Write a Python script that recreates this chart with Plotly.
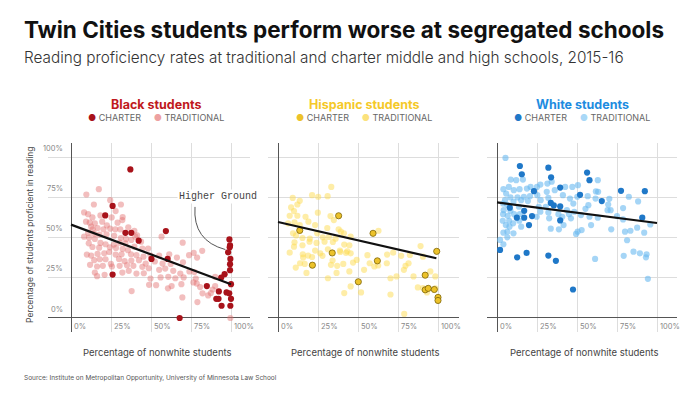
import plotly.graph_objects as go

# ---------------- data (percent) ----------------
black_trad_x = [9.6,17.4,24.5,14.3,31.2,8.2,10.7,13.4,18.4,25.4,27.9,32.3,9.4,11.7,14.9,19.5,22.4,29.1,32.1,12.6,13.6,16.6,20.3,24.5,27.7,30.8,35.8,39.6,40.2,10.7,14.5,17.8,22.2,27.0,31.2,34.4,37.7,8.2,11.3,14.9,18.4,21.6,26.8,30.4,34.0,41.3,43.8,11.1,13.4,17.6,24.3,28.1,32.3,35.6,39.6,44.6,48.2,56.6,69.8,9.9,12.6,16.6,20.8,23.9,27.9,31.6,37.5,40.9,45.3,49.7,55.1,61.4,66.2,73.8,76.7,82.0,78.8,14.5,18.0,21.6,24.9,30.0,33.5,37.7,42.5,46.7,52.4,57.2,62.3,70.0,11.9,16.3,19.9,25.6,30.4,35.0,39.0,44.6,48.6,55.1,58.9,63.9,68.3,74.0,77.1,14.9,16.3,21.0,32.1,36.1,40.9,45.5,49.7,56.0,60.8,65.2,70.4,78.0,90.1,48.8,53.2,60.6,62.9,69.0,76.5,78.6,80.7,82.2,85.7,90.1,37.9,69.6,79.0,87.4,88.5,99.6]
black_trad_y = [76.7,80.0,73.2,70.5,70.5,65.6,64.5,62.5,63.7,62.5,66.4,62.7,59.8,59.2,58.8,59.8,57.5,59.2,60.8,56.7,55.1,55.9,55.1,55.5,55.1,55.1,56.3,54.2,50.5,53.0,52.4,51.8,52.0,51.1,49.7,49.1,48.5,50.5,49.9,49.1,46.6,45.8,45.6,46.8,46.4,51.3,47.4,46.4,44.1,43.7,43.9,43.5,42.9,42.1,44.3,43.1,43.1,50.5,46.8,39.4,38.8,39.8,40.2,41.0,39.4,39.6,39.6,39.0,38.1,38.8,38.8,39.6,37.5,39.0,40.4,41.7,37.5,35.9,36.5,36.5,33.6,36.7,35.3,35.7,35.9,33.8,35.1,33.8,33.6,34.6,33.0,32.0,32.4,32.0,32.4,32.8,32.4,31.8,30.9,29.9,30.7,29.3,27.6,28.9,28.5,28.2,26.0,26.8,28.2,29.3,27.6,27.8,24.5,25.2,25.6,24.7,25.2,24.5,25.6,20.6,20.4,18.4,19.8,21.0,22.1,21.4,19.2,15.3,14.0,19.8,16.7,12.8,9.9,15.5,17.7,0.0]
black_chart_x = [37.1,26.0,21.4,34.0,37.7,42.3,59.3,50.3,60.4,26.0,67.9,84.9,99.0,99.4,99.2,98.2,99.6,99.4,99.4,96.0,93.9,100.0,97.2,98.9,92.4,90.8,92.2,100.0,94.1,99.6]
black_chart_y = [92.3,69.6,63.7,52.9,52.9,48.0,54.0,36.7,36.7,27.0,0.0,19.8,48.8,45.1,43.9,40.8,36.7,33.4,29.7,27.2,25.1,21.0,15.9,15.3,16.5,11.9,11.9,11.9,7.6,7.6]

hisp_trad_x = [9.2,13.6,12.1,8.2,10.0,7.3,12.1,17.2,21.3,25.1,31.0,33.3,24.9,32.8,34.9,6.3,10.3,13.6,19.0,23.2,30.8,37.9,39.3,9.4,11.3,15.3,19.9,24.5,28.0,31.8,36.0,41.2,45.4,10.3,15.3,19.7,24.1,29.1,34.3,41.4,44.6,7.3,10.0,15.5,18.8,23.2,26.4,31.2,38.7,43.3,45.4,15.7,21.3,27.8,34.1,38.9,42.5,13.8,16.7,33.1,37.0,40.8,46.9,49.2,55.9,57.3,62.6,68.2,68.0,72.0,11.1,17.8,31.2,36.6,44.6,53.8,60.2,70.3,74.1,78.7,79.7,82.4,84.7,77.0,81.6,89.1,90.6,95.2,98.3,45.4,51.9,41.4,70.3,87.4,90.6,93.1,98.3,78.9,62.8]
hisp_trad_y = [74.6,72.8,70.5,68.7,66.4,63.5,63.5,62.9,76.3,75.3,75.7,81.4,65.4,63.3,60.8,58.8,59.4,57.7,59.8,57.7,55.9,55.1,53.6,52.6,51.3,49.7,49.3,52.6,50.1,50.3,49.3,52.6,50.5,47.0,45.2,47.4,46.6,47.4,47.2,45.6,45.2,40.6,44.3,39.6,38.8,41.9,40.2,42.7,41.9,41.4,40.2,37.5,37.9,38.6,35.7,41.0,40.4,34.0,33.6,33.0,32.4,33.6,34.4,36.1,39.0,34.0,32.6,39.4,34.0,40.6,31.3,28.0,24.7,28.0,28.9,29.9,32.0,24.7,25.8,29.9,32.4,39.2,25.8,38.6,34.0,44.7,38.1,28.9,25.8,19.6,15.9,15.5,14.6,19.0,18.6,15.9,18.4,2.5,54.2]
hisp_chart_x = [13.6,21.5,33.9,37.9,50.2,59.4,62.1,92.0,92.0,93.9,97.7,99.2,100.0,100.0]
hisp_chart_y = [54.4,32.8,40.4,63.5,22.5,52.6,35.5,26.6,17.5,18.4,17.7,41.4,12.8,10.9]

white_trad_x = [5.3,4.0,8.6,12.0,16.2,7.4,10.5,5.7,14.1,18.7,21.0,25.0,27.1,31.5,34.2,42.6,47.1,50.6,63.0,36.1,31.1,25.2,20.6,16.8,12.8,8.4,5.0,3.8,6.3,10.3,15.1,19.3,27.3,32.1,41.2,45.6,50.2,56.7,61.8,63.2,61.6,70.2,69.5,82.4,88.2,57.1,55.3,47.7,43.7,45.0,48.3,4.2,8.4,13.7,26.1,30.5,27.1,32.1,38.4,3.8,6.7,10.7,14.3,24.8,32.6,40.8,46.2,52.5,69.1,71.0,78.8,75.0,3.6,7.6,10.1,13.9,7.8,5.5,15.1,33.6,38.7,41.6,50.4,52.9,49.4,57.8,58.8,63.0,71.4,78.8,80.0,87.6,92.0,95.8,4.0,6.5,10.3,1.9,6.5,4.0,81.3,61.3,79.2,85.3,89.3,93.5,93.1,94.3,83.4]
white_trad_y = [99.4,80.0,86.0,85.6,86.0,81.4,79.4,77.3,80.0,80.4,81.4,81.4,82.9,83.5,84.7,81.4,81.4,82.5,85.6,79.4,78.4,76.3,75.7,75.3,74.9,74.9,73.2,71.1,70.3,72.2,73.2,72.6,73.2,74.6,76.3,74.2,75.3,75.7,78.6,78.4,74.2,74.0,70.5,75.3,72.4,70.1,67.8,71.1,67.0,64.5,66.0,67.0,66.6,69.1,69.1,69.1,66.0,65.6,64.5,64.5,63.5,64.5,64.5,62.9,61.9,62.9,61.9,63.9,67.0,67.0,68.3,63.3,60.4,60.4,58.8,60.4,56.7,57.7,56.7,55.5,55.1,57.7,53.6,54.6,52.2,62.9,57.7,62.3,55.1,61.2,53.6,56.1,53.0,58.1,53.0,53.6,52.6,48.5,50.1,45.8,48.3,36.7,38.6,41.2,40.2,39.6,37.7,24.3,54.2]
white_chart_x = [14.3,15.5,32.1,33.8,23.1,39.5,51.9,56.3,57.8,65.5,77.5,92.4,33.6,35.5,39.5,8.0,17.0,12.4,17.0,21.9,20.0,39.5,90.8,1.9,12.6,18.5,32.1,36.8,47.5]
white_chart_y = [94.4,89.3,93.4,87.4,78.8,81.0,76.5,90.3,85.6,72.6,79.0,78.8,71.5,69.9,69.3,68.5,66.6,62.3,62.3,63.3,57.7,60.6,62.3,42.3,37.7,40.4,38.8,35.5,17.7]

# trend lines (start / end)
black_fit_x = [0, 100]
black_fit_y = [58.0, 21.0]
hisp_fit_x = [0, 99]
hisp_fit_y = [59.6, 37.1]
white_fit_x = [0, 100]
white_fit_y = [71.8, 59.0]

tick_vals = [0, 25, 50, 75, 100]
tick_text = ["0%", "25%", "50%", "75%", "100%"]

panel_names = ["Black students", "Hispanic students", "White students"]

# ---------------- styling ----------------
OFF = 8                      # page body margin
W, H = 700 - 2 * OFF, 394 - 2 * OFF
FONT = "Inter"


def px(p):
    return (p - OFF) / W


def py(p):
    return 1 - (p - OFF) / H


title_cols = ["#c01920", "#f5c929", "#1e8ce0"]
charter_cols = ["#a8121a", "#ecc22a", "#1f78c8"]
charter_line = ["#a8121a", "#7d6508", "#1f78c8"]
trad_cols = ["rgba(226,110,110,0.45)", "rgba(253,220,80,0.5)", "rgba(105,185,240,0.6)"]
trad_legend = ["#eda1a1", "#fbe27c", "#a9d8f7"]

# window-pixel geometry
x_dom_px = [(48, 250), (268, 459), (487, 677)]
zero_px = [71, 278, 497]
px_per_pct = 1.6
y_top_px, y_bot_px = 143, 332
y_range = [-8.7, 108.7]

fig = go.Figure()

series = [
    (black_trad_x, black_trad_y, black_chart_x, black_chart_y, black_fit_x, black_fit_y),
    (hisp_trad_x, hisp_trad_y, hisp_chart_x, hisp_chart_y, hisp_fit_x, hisp_fit_y),
    (white_trad_x, white_trad_y, white_chart_x, white_chart_y, white_fit_x, white_fit_y),
]

annotations = []
for i, (tx, ty, cx, cy, fx, fy) in enumerate(series):
    xa = "x" if i == 0 else f"x{i+1}"
    ya = "y" if i == 0 else f"y{i+1}"
    fig.add_trace(go.Scatter(x=tx, y=ty, mode="markers", xaxis=xa, yaxis=ya,
                             marker=dict(size=6.2, color=trad_cols[i], line=dict(width=0)),
                             showlegend=False, hoverinfo="skip"))
    fig.add_trace(go.Scatter(x=cx, y=cy, mode="markers", xaxis=xa, yaxis=ya,
                             marker=dict(size=6.2, color=charter_cols[i],
                                         line=dict(width=0.8 if i == 1 else 0, color=charter_line[i])),
                             showlegend=False, hoverinfo="skip"))
    fig.add_trace(go.Scatter(x=fx, y=fy, mode="lines", xaxis=xa, yaxis=ya,
                             line=dict(color="#111111", width=2.2),
                             showlegend=False, hoverinfo="skip"))

    d0, d1 = x_dom_px[i]
    z = zero_px[i]
    xr = [(d0 - z) / px_per_pct, (d1 - z) / px_per_pct]
    xkey = "xaxis" if i == 0 else f"xaxis{i+1}"
    ykey = "yaxis" if i == 0 else f"yaxis{i+1}"
    fig.update_layout(**{
        xkey: dict(domain=[px(d0), px(d1)], range=xr, tickvals=tick_vals[1:],
                   showgrid=True, gridcolor="#dddddd", gridwidth=1,
                   zeroline=True, zerolinecolor="#555555", zerolinewidth=1.3,
                   showticklabels=False, showline=False, fixedrange=True,
                   anchor=ya),
        ykey: dict(domain=[py(y_bot_px), py(y_top_px)], range=y_range,
                   tickvals=tick_vals, showgrid=True, gridcolor="#dddddd", gridwidth=1,
                   zeroline=True, zerolinecolor="#555555", zerolinewidth=1.3,
                   showticklabels=False, showline=False, fixedrange=True,
                   anchor=xa),
    })

    # x tick labels
    for v, t in zip(tick_vals, tick_text):
        annotations.append(dict(x=v + 0.8, y=-1.2, xref=xa, yref=ya, text=t, showarrow=False,
                                xanchor="left", yanchor="top",
                                font=dict(family=FONT, size=7.5, color="#888888")))
    # panel title and legend
    cx_px = (zero_px[i] + d1) / 2 - 5
    annotations.append(dict(x=px(cx_px), y=py(104), xref="paper", yref="paper",
                            text=f"<b>{panel_names[i]}</b>", showarrow=False,
                            xanchor="center", yanchor="middle",
                            font=dict(family=FONT, size=12.5, color=title_cols[i])))
    annotations.append(dict(x=px(cx_px), y=py(118), xref="paper", yref="paper",
                            text=(f"<span style='color:{charter_cols[i]}'>●</span>&nbsp;CHARTER"
                                  f"&nbsp;&nbsp;&nbsp;&nbsp;&nbsp;<span style='color:{trad_legend[i]}'>●</span>&nbsp;TRADITIONAL"),
                            showarrow=False, xanchor="center", yanchor="middle",
                            font=dict(family=FONT, size=9, color="#666666")))
    # x axis title
    annotations.append(dict(x=px((zero_px[i] + d1) / 2 - 3), y=py(352), xref="paper", yref="paper",
                            text="Percentage of nonwhite students", showarrow=False,
                            xanchor="center", yanchor="middle",
                            font=dict(family=FONT, size=9.5, color="#444444")))

# y tick labels (first panel)
for v, t in zip(tick_vals, tick_text):
    annotations.append(dict(x=-3.5, y=v + 1.5, xref="x", yref="y", text=t, showarrow=False,
                            xanchor="right", yanchor="bottom",
                            font=dict(family=FONT, size=7.5, color="#888888")))

# y axis title
annotations.append(dict(x=px(30), y=py(235), xref="paper", yref="paper",
                        text="Percentage of students proficient in reading", textangle=-90,
                        showarrow=False, xanchor="center", yanchor="middle",
                        font=dict(family=FONT, size=8.5, color="#444444")))

# Higher Ground annotation
annotations.append(dict(x=92, y=75.5, xref="x", yref="y", text="Higher Ground", showarrow=False,
                        xanchor="center", yanchor="middle", bgcolor="white",
                        font=dict(family="Liberation Mono", size=10, color="#444444")))
fig.add_shape(type="path", xref="x", yref="y",
              path="M 77.5 69 Q 76 48 96.5 42.5",
              line=dict(color="#555555", width=1))

# Titles
annotations.append(dict(x=px(22), y=py(30), xref="paper", yref="paper",
                        text="<b>Twin Cities students perform worse at segregated schools</b>",
                        showarrow=False, xanchor="left", yanchor="middle",
                        font=dict(family=FONT, size=22.5, color="#111111")))
annotations.append(dict(x=px(22), y=py(57), xref="paper", yref="paper",
                        text="Reading proficiency rates at traditional and charter middle and high schools, 2015-16",
                        showarrow=False, xanchor="left", yanchor="middle",
                        font=dict(family=FONT, size=15.3, color="#333333", weight=300)))
annotations.append(dict(x=px(22), y=py(378), xref="paper", yref="paper",
                        text="Source: Institute on Metropolitan Opportunity, University of Minnesota Law School",
                        showarrow=False, xanchor="left", yanchor="middle",
                        font=dict(family=FONT, size=6.5, color="#555555")))

fig.update_layout(width=W, height=H, margin=dict(l=0, r=0, t=0, b=0),
                  paper_bgcolor="white", plot_bgcolor="white",
                  annotations=annotations, showlegend=False)

fig.write_html("out.html")
